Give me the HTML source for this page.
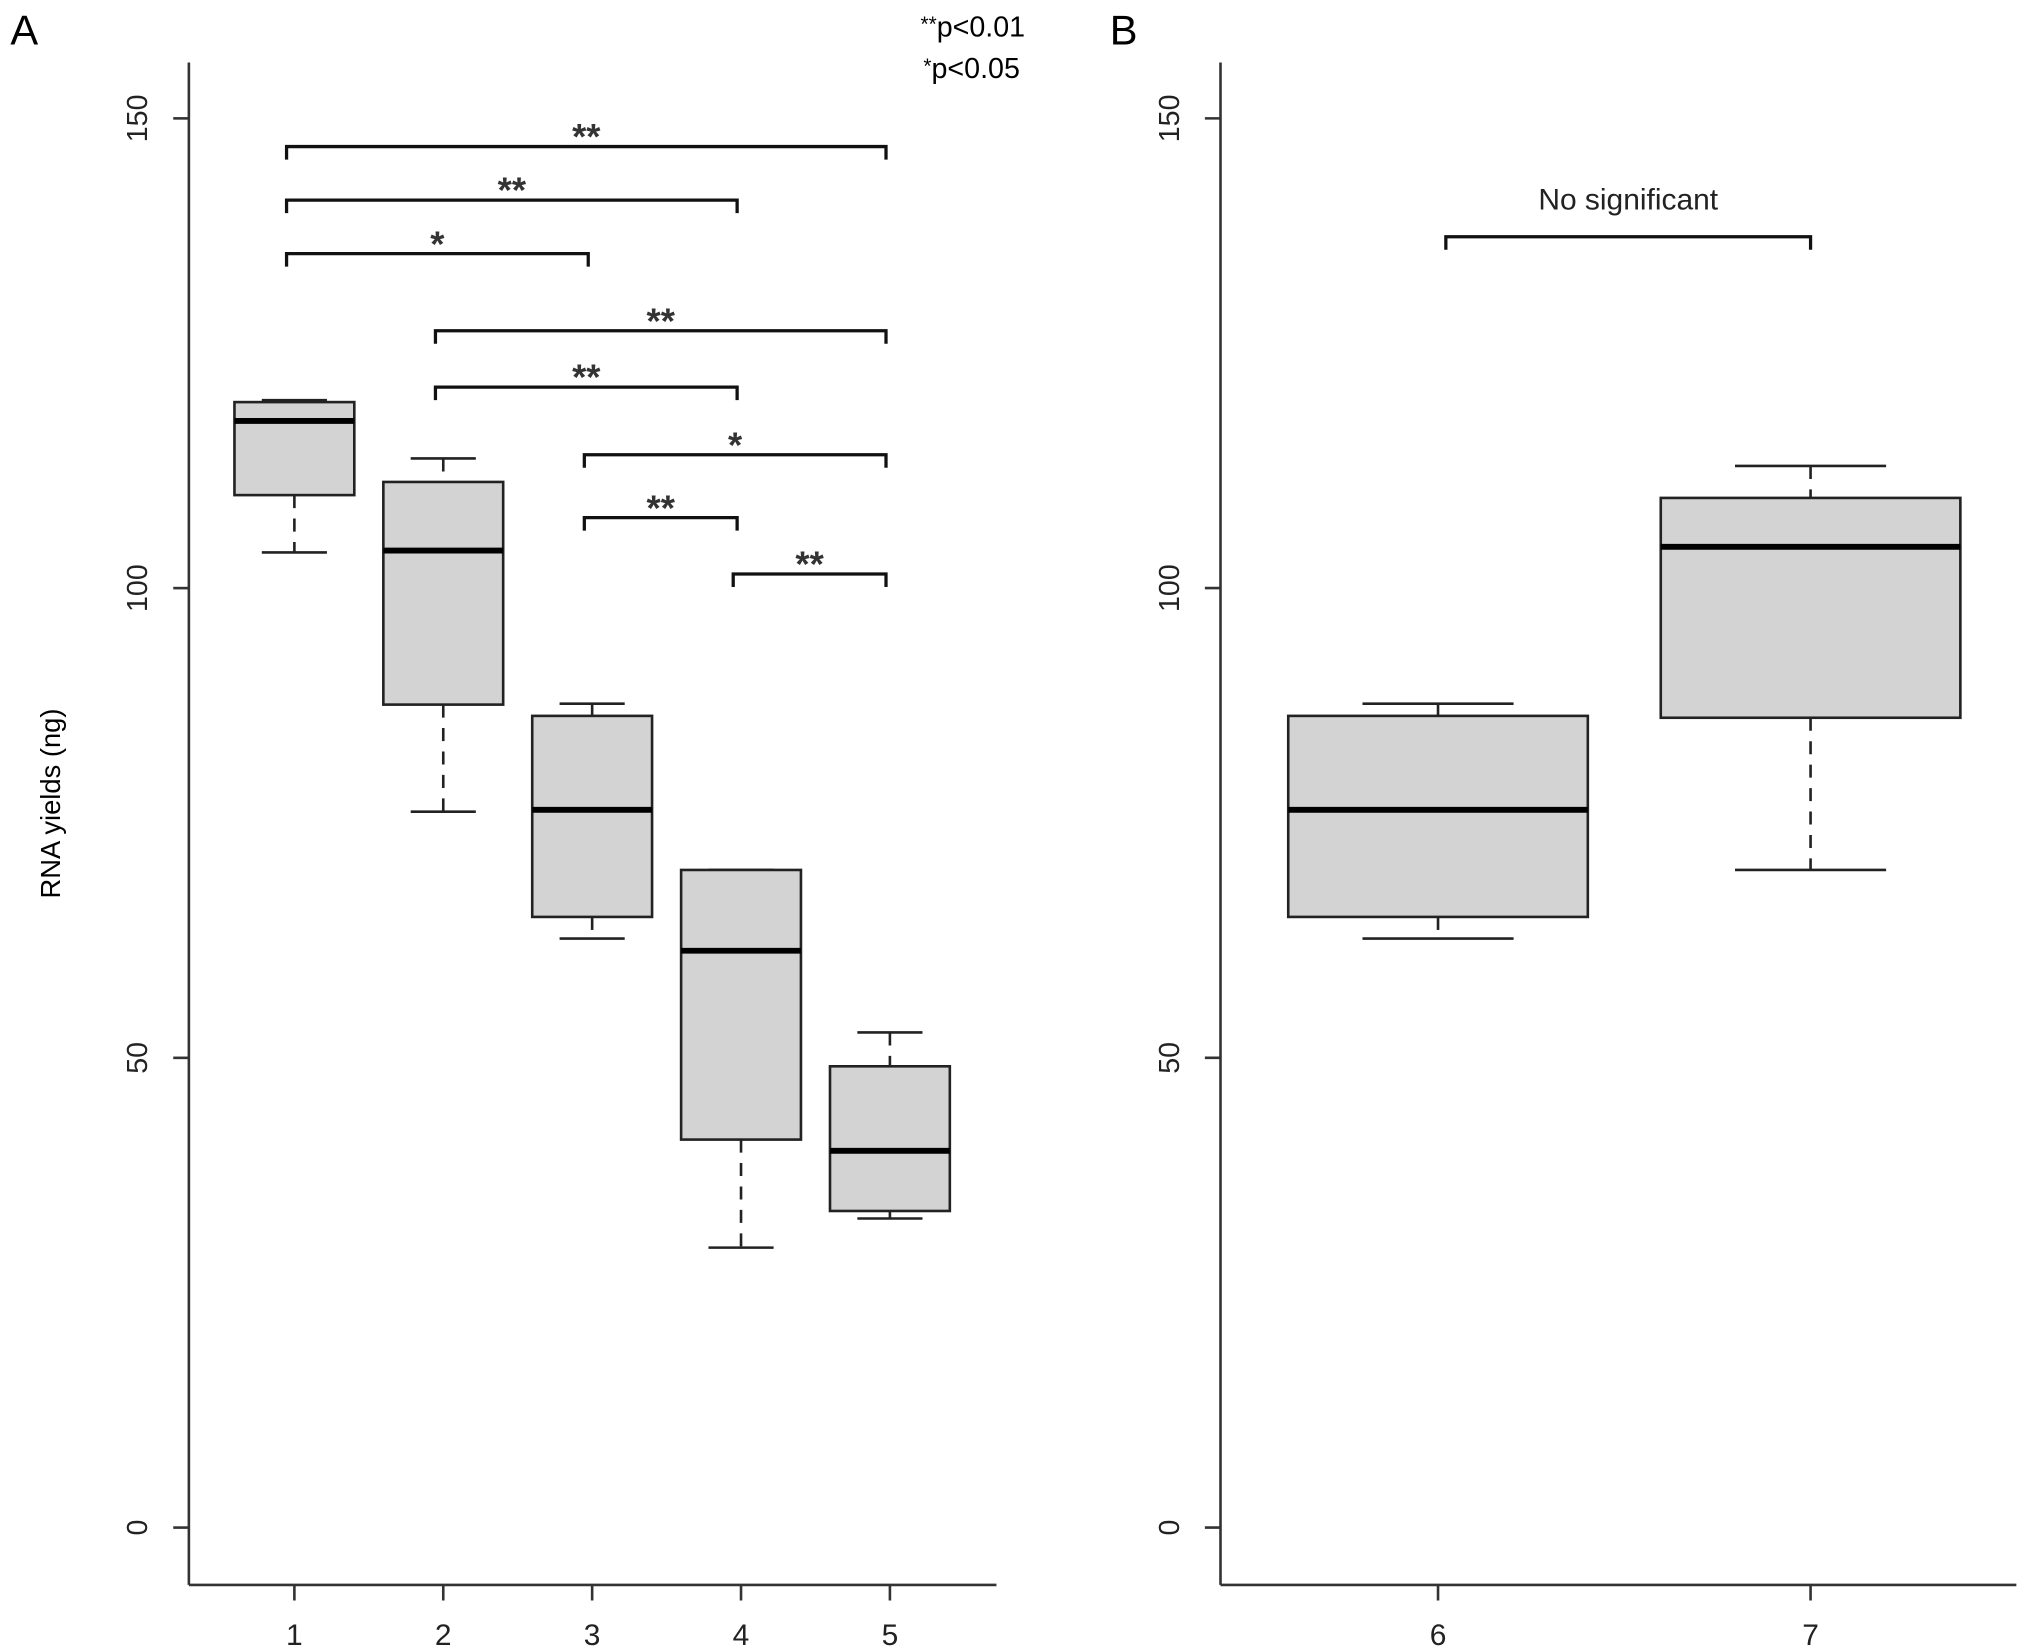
<!DOCTYPE html>
<html><head><meta charset="utf-8"><style>
html,body{margin:0;padding:0;background:#fff;}
svg{display:block;font-family:"Liberation Sans",Arial,sans-serif;}
</style></head><body>
<svg id="chart" width="2032" height="1650" viewBox="0 0 1560 1267" preserveAspectRatio="none" xmlns="http://www.w3.org/2000/svg">
<text x="8" y="34" font-size="32">A</text>
<text x="852" y="34" font-size="32">B</text>
<text x="787" y="28" font-size="22" text-anchor="end"><tspan font-size="16" dy="-4">**</tspan><tspan dy="4">p&lt;0.01</tspan></text>
<text x="783" y="60" font-size="22" text-anchor="end"><tspan font-size="16" dy="-4">*</tspan><tspan dy="4">p&lt;0.05</tspan></text>
<text transform="translate(46,617) rotate(-90)" font-size="21" text-anchor="middle">RNA yields (ng)</text>
<g id="g"></g>
</svg>
<script>
const groupsA = ["1","2","3","4","5"];
const lowA = [103.8, 76.2, 62.7, 29.8, 32.9];
const q1A = [109.9, 87.6, 65.0, 41.3, 33.7];
const medA = [117.8, 104.0, 76.4, 61.4, 40.1];
const q3A = [119.8, 111.3, 86.4, 70.0, 49.1];
const highA = [120.0, 113.8, 87.7, 70.0, 52.7];
const groupsB = ["6","7"];
const lowB = [62.7, 70.0];
const q1B = [65.0, 86.2];
const medB = [76.4, 104.4];
const q3B = [86.4, 109.6];
const highB = [87.7, 113.0];
const yTicks = [0, 50, 100, 150];
const sigFrom = [0, 0, 0, 1, 1, 2, 2, 3];
const sigTo = [4, 3, 2, 4, 3, 4, 3, 4];
const sigLevel = [147, 141.3, 135.6, 127.4, 121.4, 114.2, 107.5, 101.5];
const sigLabel = ["**","**","*","**","**","*","**","**"];
const nsLevel = [137.4];
const nsLabel = ["No significant"];

const NS="http://www.w3.org/2000/svg";
const g=document.getElementById('g');
function el(t,a,txt){const e=document.createElementNS(NS,t);for(const k in a)e.setAttribute(k,a[k]);if(txt!==undefined)e.textContent=txt;g.appendChild(e);return e;}
const y=v=>1173-v*7.214;
const xA=i=>226+i*114.3;
const xB=i=>1104+i*286;

function panel(ax, x0, x1, groups, xf, low, q1, med, q3, high, hw, cw, p){
  let e=el('line',{x1:ax,y1:48,x2:ax,y2:1217,stroke:'#333','stroke-width':2});
  
  
  e=el('line',{x1:ax,y1:1217,x2:x1,y2:1217,stroke:'#333','stroke-width':2});
  
  
  yTicks.forEach(t=>{
    e=el('line',{x1:ax-12,y1:y(t),x2:ax,y2:y(t),stroke:'#333','stroke-width':2});
    
    
    e=el('text',{transform:`translate(${ax-32},${y(t)}) rotate(-90)`,'font-size':22,'text-anchor':'middle',fill:'#222'},String(t));
    
    
  });
  groups.forEach((lab,i)=>{
    const cx=xf(i);
    e=el('line',{x1:cx,y1:1217,x2:cx,y2:1229,stroke:'#333','stroke-width':2});
    
    
    e=el('text',{x:cx,y:1263,'font-size':23,'text-anchor':'middle',fill:'#222'},lab);
    
    
    e=el('line',{x1:cx,y1:y(high[i]),x2:cx,y2:y(q3[i]),stroke:'#222','stroke-width':2,'stroke-dasharray':'10,8'});
    
    
    e=el('line',{x1:cx,y1:y(q1[i]),x2:cx,y2:y(low[i]),stroke:'#222','stroke-width':2,'stroke-dasharray':'10,8'});
    
    
    e=el('line',{x1:cx-cw,y1:y(high[i]),x2:cx+cw,y2:y(high[i]),stroke:'#222','stroke-width':2});
    
    
    e=el('line',{x1:cx-cw,y1:y(low[i]),x2:cx+cw,y2:y(low[i]),stroke:'#222','stroke-width':2});
    
    
    e=el('rect',{x:cx-hw,y:y(q3[i]),width:2*hw,height:y(q1[i])-y(q3[i]),fill:'#d3d3d3',stroke:'#222','stroke-width':2});
    
    
    e=el('line',{x1:cx-hw,y1:y(med[i]),x2:cx+hw,y2:y(med[i]),stroke:'#000','stroke-width':4.5});
    
    
  });
}
panel(145,145,765,groupsA,xA,lowA,q1A,medA,q3A,highA,46,25,'panel-a');
panel(937,937,1548,groupsB,xB,lowB,q1B,medB,q3B,highB,115,58,'panel-b');

function bracket(xa,xb,lv,lab,fs,ty){
  const yy=y(lv);
  const e=el('path',{d:`M${xa},${yy+10} V${yy} H${xb} V${yy+10}`,fill:'none',stroke:'#111','stroke-width':2.5});
  
  
  const t=el('text',{x:(xa+xb)/2,y:yy-ty,'font-size':fs,'text-anchor':'middle',fill:'#333','font-weight':'bold'},lab);
  
  
}
sigFrom.forEach((f,k)=>bracket(xA(f)-6,xA(sigTo[k])-3,sigLevel[k],sigLabel[k],28,-2));
const ns=y(nsLevel[0]);
const np=el('path',{d:`M${xB(0)+6},${ns+10} V${ns} H${xB(1)} V${ns+10}`,fill:'none',stroke:'#111','stroke-width':2.5});


const nt=el('text',{x:(xB(0)+xB(1))/2+3,y:ns-21,'font-size':23,'text-anchor':'middle',fill:'#222'},nsLabel[0]);


</script>
</body></html>
